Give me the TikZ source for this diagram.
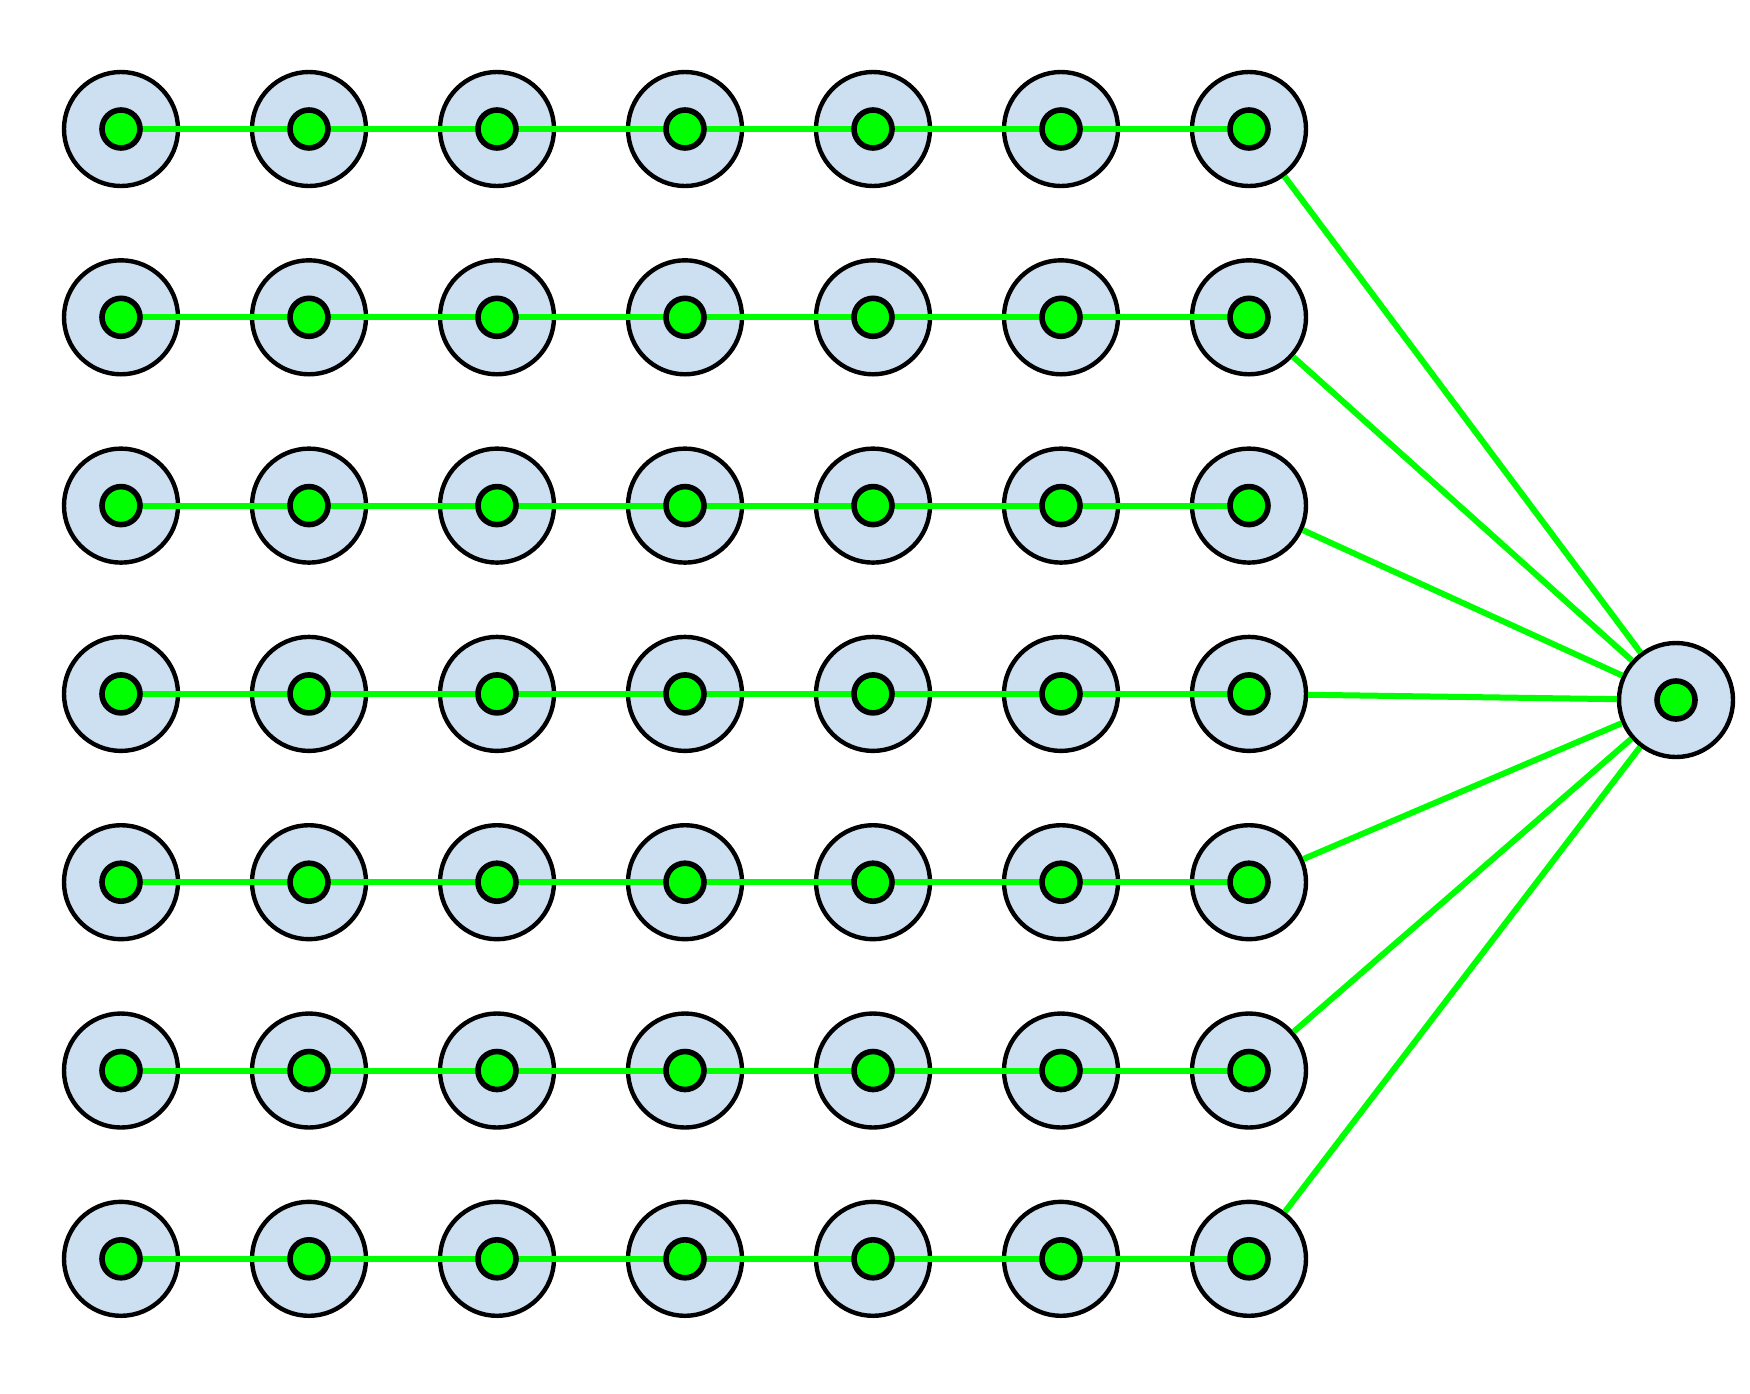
\documentclass[tikz,border=0pt]{standalone}
\begin{document}
\begin{tikzpicture}[x=0.5pt,y=-0.5pt,
 outer/.style={circle,draw=black,line width=2.2pt,fill={rgb,255:red,204;green,224;blue,242},minimum size=57pt,inner sep=0pt},
 inner/.style={circle,draw=black,line width=2.8pt,fill={rgb,255:red,0;green,255;blue,0},minimum size=19pt,inner sep=0pt},
 link/.style={draw={rgb,255:red,0;green,255;blue,0},line width=3pt}]
\useasboundingbox (0,0) rectangle (1750,1393);
\foreach \r in {1,...,7}{
  \foreach \c in {1,...,7}{
    \node[outer] (o-\r-\c) at ({121+188*(\c-1)},{129+188.3*(\r-1)}) {};
  }
}
\node[outer] (R) at (1676,700) {};
\foreach \r in {1,...,7}{
  \draw[link] (o-\r-1.center) -- (o-\r-7.center);
  \draw[link] (o-\r-7) -- (R);
}
\foreach \r in {1,...,7}{
  \foreach \c in {1,...,7}{
    \node[inner] (i-\r-\c) at (o-\r-\c) {};
  }
}
\node[inner] (iR) at (R) {};
\end{tikzpicture}
\end{document}
